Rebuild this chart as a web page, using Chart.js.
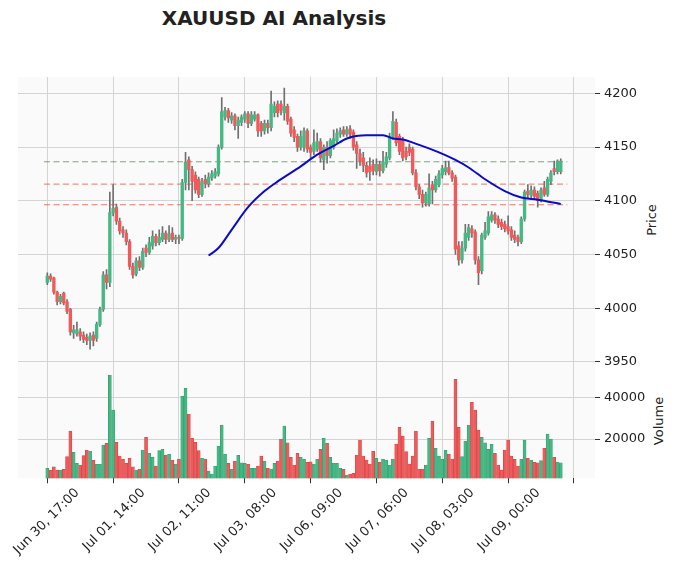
<!DOCTYPE html>
<html><head><meta charset="utf-8">
<script src="https://cdn.jsdelivr.net/npm/chart.js@4.4.1/dist/chart.umd.min.js"></script>
<style>
body{margin:0;background:#fff;width:677px;height:574px;overflow:hidden;position:relative;font-family:'DejaVu Sans',sans-serif;color:#222}
#c{position:absolute;left:0;top:0}
.title{position:absolute;left:0;top:6px;width:548px;text-align:center;font-weight:bold;font-size:20px;line-height:24px}
.ylab{position:absolute;font-size:13px;line-height:16px;white-space:nowrap;transform:translate(-50%,-50%) rotate(-90deg)}
</style></head>
<body>
<div class="title">XAUUSD AI Analysis</div>
<div class="ylab" style="left:652px;top:220px">Price</div>
<div class="ylab" style="left:659px;top:421px">Volume</div>
<canvas id="c" width="677" height="574"></canvas>
<script>
const tickLabels = ['Jun 30, 17:00','Jul 01, 14:00','Jul 02, 11:00','Jul 03, 08:00','Jul 06, 09:00','Jul 07, 06:00','Jul 08, 03:00','Jul 09, 00:00'];
const tickEvery = 20;
const priceTicks = [3950, 4000, 4050, 4100, 4150, 4200];
const volTicks = [20000, 40000];

const opens = [
4024,4030,4028,4015,4006,4014,4006,3999,3977,3976,
3978,3975,3973,3970,3975,3972,3985,3999,4031,4024,
4089,4094,4081,4073,4070,4062,4039,4032,4044,4038,
4056,4052,4058,4067,4061,4064,4070,4064,4070,4064,
4066,4065,4117,4138,4129,4124,4120,4106,4120,4116,
4121,4123,4125,4150,4178,4184,4175,4179,4170,4173,
4176,4181,4172,4176,4180,4172,4165,4172,4168,4182,
4190,4190,4182,4188,4176,4166,4160,4150,4150,4165,
4150,4146,4148,4155,4138,4150,4142,4150,4156,4162,
4166,4162,4167,4164,4152,4144,4140,4133,4132,4134,
4127,4134,4128,4134,4140,4160,4173,4160,4157,4146,
4150,4148,4126,4113,4106,4098,4097,4115,4110,4115,
4124,4127,4131,4126,4122,4058,4045,4056,4066,4074,
4071,4045,4035,4066,4070,4082,4087,4083,4080,4078,
4076,4073,4068,4066,4062,4083,4109,4105,4110,4107,
4101,4112,4106,4118,4130,4127,4127];
const highs = [
4033,4032,4029,4016,4013,4015,4008,4000,3984,3987,
3981,3978,3976,3977,3978,3987,4001,4034,4036,4108,
4115,4097,4084,4076,4073,4064,4042,4047,4048,4056,
4059,4066,4072,4069,4073,4076,4072,4077,4075,4068,
4068,4120,4145,4141,4132,4127,4122,4121,4124,4126,
4128,4130,4152,4196,4187,4186,4182,4181,4178,4180,
4183,4183,4183,4183,4181,4174,4175,4175,4202,4192,
4193,4193,4205,4190,4178,4169,4162,4165,4168,4167,
4152,4166,4163,4158,4152,4155,4158,4166,4167,4168,
4169,4169,4170,4166,4155,4148,4145,4136,4140,4138,
4139,4137,4146,4145,4163,4183,4176,4162,4159,4150,
4153,4150,4129,4115,4110,4108,4125,4118,4123,4128,
4133,4137,4137,4128,4124,4062,4062,4078,4078,4077,
4073,4048,4070,4080,4090,4090,4089,4086,4083,4081,
4086,4076,4072,4068,4085,4110,4115,4114,4113,4109,
4112,4118,4122,4128,4137,4138,4139];
const lows = [
4022,4025,4013,4003,4004,4003,3995,3975,3972,3974,
3970,3968,3966,3962,3965,3969,3983,3997,4018,4020,
4086,4078,4069,4066,4059,4036,4028,4030,4035,4036,
4048,4050,4055,4058,4059,4062,4060,4062,4062,4060,
4060,4063,4110,4110,4100,4107,4103,4104,4112,4113,
4119,4121,4123,4148,4175,4173,4172,4166,4158,4170,
4173,4168,4170,4174,4160,4160,4162,4163,4165,4178,
4178,4180,4175,4171,4160,4155,4146,4147,4146,4145,
4140,4143,4146,4136,4129,4135,4140,4148,4154,4159,
4160,4160,4158,4147,4130,4133,4127,4122,4119,4124,
4124,4123,4126,4131,4138,4157,4151,4143,4137,4138,
4142,4124,4110,4102,4094,4095,4095,4097,4108,4113,
4121,4124,4124,4118,4050,4040,4042,4053,4063,4066,
4041,4022,4032,4064,4068,4080,4079,4075,4073,4071,
4069,4063,4061,4058,4060,4081,4103,4102,4101,4094,
4099,4104,4104,4115,4124,4125,4125];
const closes = [
4030,4027,4015,4006,4011,4005,3997,3978,3980,3980,
3974,3971,3970,3974,3970,3985,3999,4031,4024,4089,
4093,4081,4072,4070,4062,4039,4031,4044,4038,4053,
4052,4061,4067,4061,4066,4070,4064,4069,4064,4066,
4065,4117,4136,4129,4118,4110,4106,4118,4116,4122,
4125,4127,4150,4183,4184,4177,4179,4170,4175,4178,
4181,4172,4180,4180,4165,4165,4172,4168,4190,4188,
4182,4184,4188,4174,4163,4159,4150,4160,4165,4148,
4145,4154,4155,4140,4150,4142,4156,4158,4163,4165,
4162,4166,4162,4150,4144,4137,4133,4126,4127,4128,
4134,4128,4136,4141,4160,4174,4154,4146,4140,4141,
4145,4126,4113,4106,4098,4106,4112,4110,4120,4125,
4130,4131,4126,4121,4055,4045,4056,4070,4075,4070,
4045,4033,4068,4072,4085,4087,4082,4078,4076,4074,
4072,4066,4064,4062,4083,4108,4106,4110,4104,4100,
4110,4106,4120,4126,4127,4137,4137];
const volumes = [
5950,5130,6710,5130,5130,5470,11510,23840,13620,8340,
7530,11990,14720,14240,9930,7870,7870,17120,17940,50690,
33900,18420,11850,10410,8340,10740,6710,5130,5610,14720,
20810,13140,11220,7050,14390,15060,12330,12660,9930,8010,
10410,40620,44310,31990,20340,18420,14390,10740,10410,4650,
3210,7050,16640,26710,12810,8340,5470,9450,12180,8630,
8340,7870,5950,5950,7050,11850,9450,5950,5610,8340,
9450,20000,26230,18220,11220,7530,13140,
11220,10260,8820,9110,8010,10410,15060,20340,17940,11220,
8340,8340,5950,5470,2730,3210,3550,12330,19520,11850,
9930,8010,14240,10740,8820,10410,9930,7530,10410,17600,
25610,21440,13910,8010,11850,23840,5610,5610,7530,20340,
28630,15540,11850,10260,14720,12810,10410,48620,25610,11510,
19040,26710,37600,33900,24320,20810,18220,15060,17460,13140,
7530,5130,14720,19520,11850,10260,7050,10260,19520,10740,
9930,8820,8630,9590,15540,22400,20000,11220,8970,8630];

const maIdx  = [49,52,56,61,66,70,77,82,87,91,97,102,105,108,113,119,124,128,133,139,144,149,156];
const maVals = [4049,4056,4073,4094,4109,4118,4132,4143,4151,4158,4161,4161,4158,4157,4152,4145,4138,4131,4120,4109,4103,4101,4097];

const levelValues = [4136.3, 4115.5, 4096.3];
const levelKinds  = ['resistance', 'support', 'support'];
const levelSpan   = [-1, 158];

const UP = '#45b884', DOWN = '#f05a5a';
const UP_EDGE = '#2f9a6a', DOWN_EDGE = '#c94444';
const isUp = i => closes[i] >= opens[i];

const idx = opens.map((_, i) => i);
const wickData = idx.map(i => ({x: i, y: [lows[i], highs[i]]}));
const bodyData = idx.map(i => ({x: i, y: [opens[i], closes[i]]}));
const volData  = idx.map(i => ({x: i, y: volumes[i]}));
const maData   = maIdx.map((k, j) => ({x: k, y: maVals[j]}));

const levelSets = levelValues.map((v, j) => ({
  type: 'line', yAxisID: 'y',
  data: levelSpan.map(x => ({x, y: v})),
  borderColor: levelKinds[j] === 'resistance' ? 'rgba(60,150,60,0.75)' : 'rgba(220,90,70,0.8)',
  borderWidth: 1, borderDash: [6, 3.5], pointRadius: 0, order: 5
}));

const bg = {
  id: 'panelBg',
  beforeDraw(chart) {
    const a = chart.chartArea, c = chart.ctx;
    c.save(); c.fillStyle = '#fafafa';
    c.fillRect(a.left, a.top, a.right - a.left, a.bottom - a.top);
    c.restore();
  }
};

const tickFont = {family: "'DejaVu Sans'", size: 13};
const fixY = s => { s.width = 82; s.paddingTop = 0; s.paddingBottom = 0; };
const gridOpts = {color: '#d4d4d4', lineWidth: 1, tickLength: 5, tickColor: '#333', offset: false};

new Chart(document.getElementById('c'), {
  type: 'bar',
  data: {
    datasets: [
      {type: 'line', yAxisID: 'y', data: maData, borderColor: '#0c0cc8', borderWidth: 2,
       pointRadius: 0, cubicInterpolationMode: 'monotone', order: 0},
      {yAxisID: 'y', data: bodyData, barThickness: 2.7, minBarLength: 1, grouped: false,
       backgroundColor: c => isUp(c.dataIndex) ? UP : DOWN, order: 1},
      {yAxisID: 'y', data: wickData, barThickness: 1, grouped: false,
       backgroundColor: '#707070', order: 2},
      {yAxisID: 'yv', data: volData, barThickness: 3, grouped: false, borderWidth: 0.6,
       borderColor: c => isUp(c.dataIndex) ? UP_EDGE : DOWN_EDGE,
       backgroundColor: c => isUp(c.dataIndex) ? UP : DOWN, order: 3},
      ...levelSets
    ]
  },
  options: {
    responsive: false, animation: false, devicePixelRatio: 1,
    layout: {padding: {left: 18, top: 77, right: 0, bottom: 0}},
    plugins: {legend: {display: false}, tooltip: {enabled: false}},
    scales: {
      x: {
        type: 'linear', min: -8.9, max: 166.4, offset: false,
        grid: gridOpts,
        border: {display: false},
        ticks: {autoSkip: false, maxRotation: 45, minRotation: 45, padding: 2, labelOffset: 30,
          font: tickFont, color: '#222',
          callback: v => tickLabels[Math.round(v / tickEvery)] || ''},
        afterBuildTicks: s => { s.ticks = [0,1,2,3,4,5,6,7,8].map(k => ({value: k * tickEvery})); },
        afterFit: s => { s.height = 574 - 478.3; s.paddingLeft = 0; s.paddingRight = 0; }
      },
      y: {
        position: 'right', stack: 'panels', stackWeight: 285.7,
        min: 3949.3, max: 4215.2,
        grid: gridOpts,
        border: {display: false},
        ticks: {padding: 4, font: tickFont, color: '#222', callback: v => String(v)},
        afterBuildTicks: s => { s.ticks = priceTicks.map(v => ({value: v})); },
        afterFit: fixY
      },
      yv: {
        position: 'right', stack: 'panels', stackWeight: 115.6,
        min: 1150, max: 56600,
        grid: gridOpts,
        border: {display: false},
        ticks: {padding: 4, font: tickFont, color: '#222', callback: v => String(v)},
        afterBuildTicks: s => { s.ticks = volTicks.map(v => ({value: v})); },
        afterFit: fixY
      }
    }
  },
  plugins: [bg]
});
</script>
</body></html>
